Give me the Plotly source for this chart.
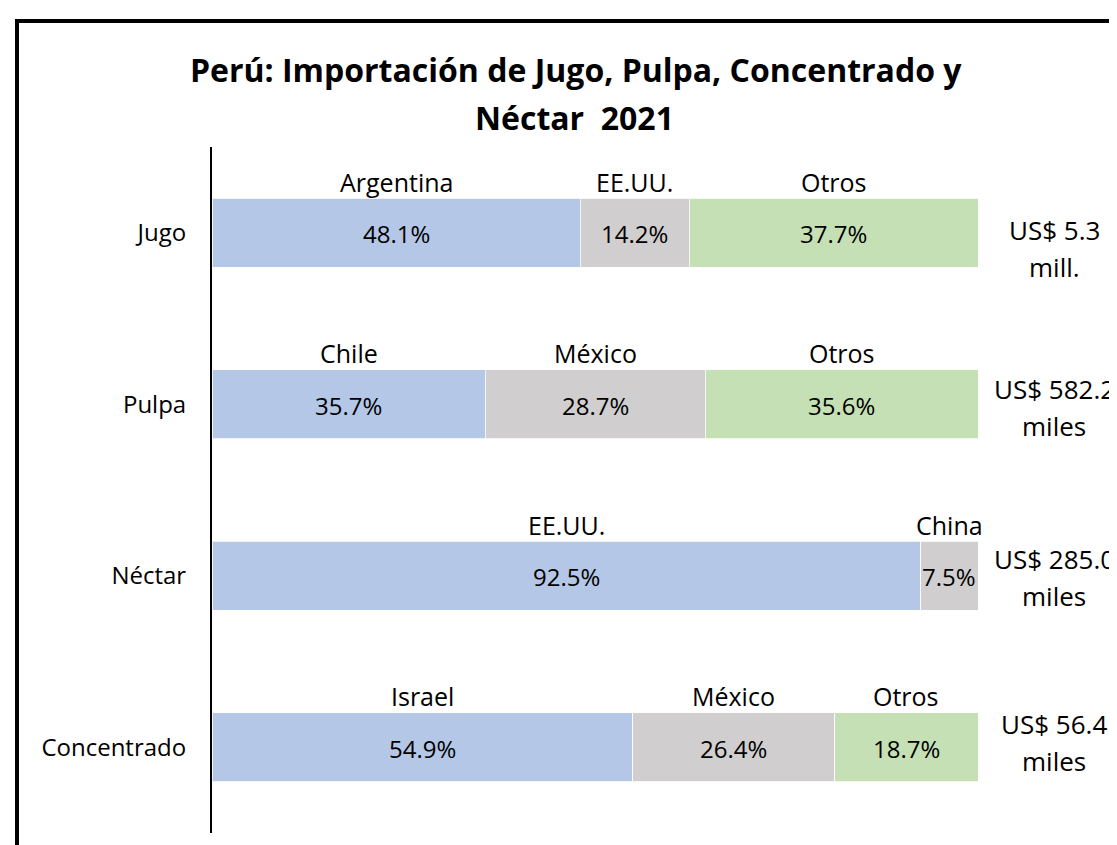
import plotly.graph_objects as go

categories = ["Jugo", "Pulpa", "Néctar", "Concentrado"]

seg1_names = ["Argentina", "Chile", "EE.UU.", "Israel"]
seg1_vals = [48.1, 35.7, 92.5, 54.9]
seg2_names = ["EE.UU.", "México", "China", "México"]
seg2_vals = [14.2, 28.7, 7.5, 26.4]
seg3_names = ["Otros", "Otros", "", "Otros"]
seg3_vals = [37.7, 35.6, 0.0, 18.7]

total_line1 = ["US$ 5.3", "US$ 582.2", "US$ 285.0", "US$ 56.4"]
total_line2 = ["mill.", "miles", "miles", "miles"]

title_line1 = "Perú: Importación de Jugo, Pulpa, Concentrado y"
title_line2 = "Néctar  2021"

# ---- styling / layout (pixel values measured on the page; page body has an 8px margin)
colors = ["#B4C7E7", "#D0CECE", "#C5E0B4"]
FONT = "Open Sans"
OFF = 8
W, H = 1117, 845
PLOT_L, PLOT_R, PLOT_T, PLOT_B = 212 - OFF, 978 - OFF, 147 - OFF, 833 - OFF
ML, MR, MT, MB = PLOT_L, W - PLOT_R, PLOT_T, H - PLOT_B
pw = PLOT_R - PLOT_L
ph = PLOT_B - PLOT_T
total_shift = [3, 15, 17, 23]   # vertical placement of the right-hand labels (px, up)
LINE_PITCH = 37


def px_x(p):
    return (p - OFF - PLOT_L) / pw


def px_y(p):
    return (PLOT_B - (p - OFF)) / ph


fig = go.Figure()
segments = [(seg1_names, seg1_vals), (seg2_names, seg2_vals), (seg3_names, seg3_vals)]
for i, (names, vals) in enumerate(segments):
    fig.add_trace(go.Bar(
        y=categories, x=vals, orientation="h",
        marker=dict(color=colors[i], line=dict(color="rgba(255,255,255,0.8)", width=1)),
        width=0.4, showlegend=False, hoverinfo="skip",
    ))

annotations = []
for r, cat in enumerate(categories):
    start = 0.0
    for names, vals in segments:
        v = vals[r]
        if v > 0:
            c = start + v / 2
            annotations.append(dict(x=c, y=cat, xref="x", yref="y", text=names[r],
                                    showarrow=False, yshift=51, xanchor="center", yanchor="middle",
                                    font=dict(family=FONT, size=25, color="black")))
            annotations.append(dict(x=c, y=cat, xref="x", yref="y", text=f"{v:.1f}%",
                                    showarrow=False, yshift=-1, xanchor="center", yanchor="middle",
                                    font=dict(family=FONT, size=24, color="black")))
        start += v
    annotations.append(dict(x=px_x(1054), y=cat, xref="paper", yref="y", text=total_line1[r],
                            showarrow=False, yshift=total_shift[r], xanchor="center", yanchor="middle",
                            font=dict(family=FONT, size=26, color="black")))
    annotations.append(dict(x=px_x(1054), y=cat, xref="paper", yref="y", text=total_line2[r],
                            showarrow=False, yshift=total_shift[r] - LINE_PITCH,
                            xanchor="center", yanchor="middle",
                            font=dict(family=FONT, size=26, color="black")))

annotations.append(dict(x=px_x(576), y=px_y(70), xref="paper", yref="paper",
                        text=f"<b>{title_line1}</b>", showarrow=False,
                        xanchor="center", yanchor="middle",
                        font=dict(family=FONT, size=32, color="black")))
annotations.append(dict(x=px_x(574), y=px_y(118), xref="paper", yref="paper",
                        text=f"<b>{title_line2}</b>", showarrow=False,
                        xanchor="center", yanchor="middle",
                        font=dict(family=FONT, size=32, color="black")))

fig.add_shape(type="rect", xref="paper", yref="paper",
              x0=px_x(17), x1=px_x(W + 40), y0=px_y(H + 40), y1=px_y(21),
              line=dict(color="black", width=4), fillcolor="rgba(0,0,0,0)", layer="below")

fig.update_layout(
    barmode="stack",
    width=W, height=H,
    margin=dict(l=ML, r=MR, t=MT, b=MB),
    paper_bgcolor="white", plot_bgcolor="white",
    annotations=annotations,
    xaxis=dict(range=[0, 100], visible=False, fixedrange=True),
    yaxis=dict(autorange="reversed", showline=True, linecolor="black", linewidth=2,
               ticks="", showgrid=False, zeroline=False, ticklabelstandoff=19,
               tickfont=dict(family=FONT, size=24, color="black")),
)

fig.write_html("out.html")
